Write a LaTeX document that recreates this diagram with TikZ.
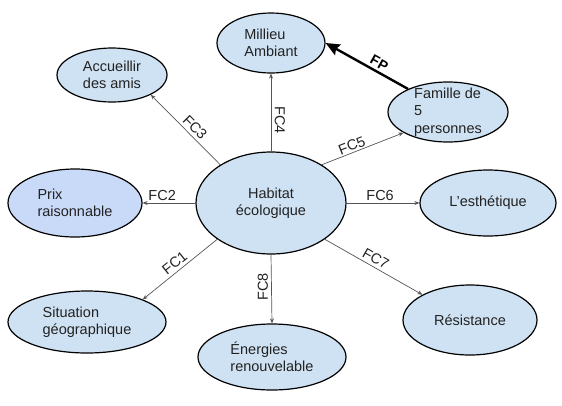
\documentclass[tikz,border=0pt]{standalone}
\usepackage{fontspec}
\setmainfont{Liberation Sans}
\usetikzlibrary{arrows.meta,shapes.geometric}
\definecolor{fillA}{HTML}{CFE2F3}
\definecolor{fillB}{HTML}{C9DAF8}
\definecolor{linec}{HTML}{555555}
\definecolor{txtc}{HTML}{222222}
\begin{document}
\begin{tikzpicture}[x=1pt,y=-1pt,
  bub/.style={ellipse, draw=black, line width=1.2pt, fill=fillA, inner sep=0pt},
  txt/.style={inner sep=0pt, font=\fontsize{14.5}{17.5}\selectfont, text=txtc},
  fc/.style={draw=linec, line width=0.7pt, -{Stealth[length=5pt,width=4pt]}},
  fcl/.style={font=\fontsize{14.5}{16}\selectfont, text=txtc, inner sep=2.5pt},
  fp/.style={draw=black, line width=2.4pt, -{Stealth[length=14pt,width=12pt,inset=2pt]}}]
\useasboundingbox (0,0) rectangle (562,405);

\node[bub, minimum width=150pt, minimum height=102pt] (h) at (271,203) {};
\node[txt, align=center] (ht) at (h) {Habitat\\écologique};

\node[bub, minimum width=108pt, minimum height=60pt] (mil) at (271,43) {};
\node[txt, align=left] (milt) at (mil) {Millieu\\Ambiant};

\node[bub, minimum width=110pt, minimum height=54pt] (acc) at (112,75) {};
\node[txt, align=center] (acct) at (acc) {Accueillir\\des amis};

\node[bub, fill=fillB, minimum width=134pt, minimum height=68pt] (prix) at (75,203) {};
\node[txt, align=left] (prixt) at (prix) {Prix\\raisonnable};

\node[bub, minimum width=120pt, minimum height=60pt] (fam) at (448,112) {};
\node[txt, align=left] (famt) at (fam) {Famille de\\5\\personnes};

\node[bub, minimum width=136pt, minimum height=66pt] (est) at (488,203) {};
\node[txt] (estt) at (est) {L’esthétique};

\node[bub, minimum width=158pt, minimum height=62pt] (sit) at (87,322) {};
\node[txt, align=left] (sitt) at (sit) {Situation\\géographique};

\node[bub, minimum width=148pt, minimum height=66pt] (en) at (272,357) {};
\node[txt, align=left] (ent) at (en) {Énergies\\renouvelable};

\node[bub, minimum width=134pt, minimum height=70pt] (res) at (470,320) {};
\node[txt] (rest) at (res) {Résistance};

\draw[fc] (h.143) -- node[fcl, pos=0.45, sloped, above, inner sep=3pt] (l3) {FC3} (acc.-27);
\draw[fc] (h.west) -- node[fcl, pos=0.63, above, inner sep=2pt] (l2) {FC2} (prix.east);
\draw[fc] (h.-146) -- node[fcl, pos=0.5, sloped, above, inner sep=3pt] (l1) {FC1} (sit.22);
\draw[fc] (h.north) -- node[fcl, pos=0.4, rotate=-90, anchor=south, inner sep=3.5pt] (l4) {FC4} (mil.south);
\draw[fc] (h.south) -- node[fcl, pos=0.47, rotate=90, anchor=south, inner sep=3pt] (l8) {FC8} (en.north);
\draw[fc] (h.east) -- node[fcl, pos=0.46, above, inner sep=2pt] (l6) {FC6} (est.west);
\draw[fc] (h.37) -- node[fcl, pos=0.4, sloped, above, inner sep=1.5pt] (l5) {FC5} (fam.-155);
\draw[fc] (h.-34) -- node[fcl, pos=0.48, sloped, above, inner sep=3pt] (l7) {FC7} (res.152);
\draw[fp] (fam.150) -- node[fcl, pos=0.4, sloped, above, font=\fontsize{14}{16}\selectfont\bfseries, text=black] (lfp) {FP} (mil.east);
\end{tikzpicture}
\end{document}
